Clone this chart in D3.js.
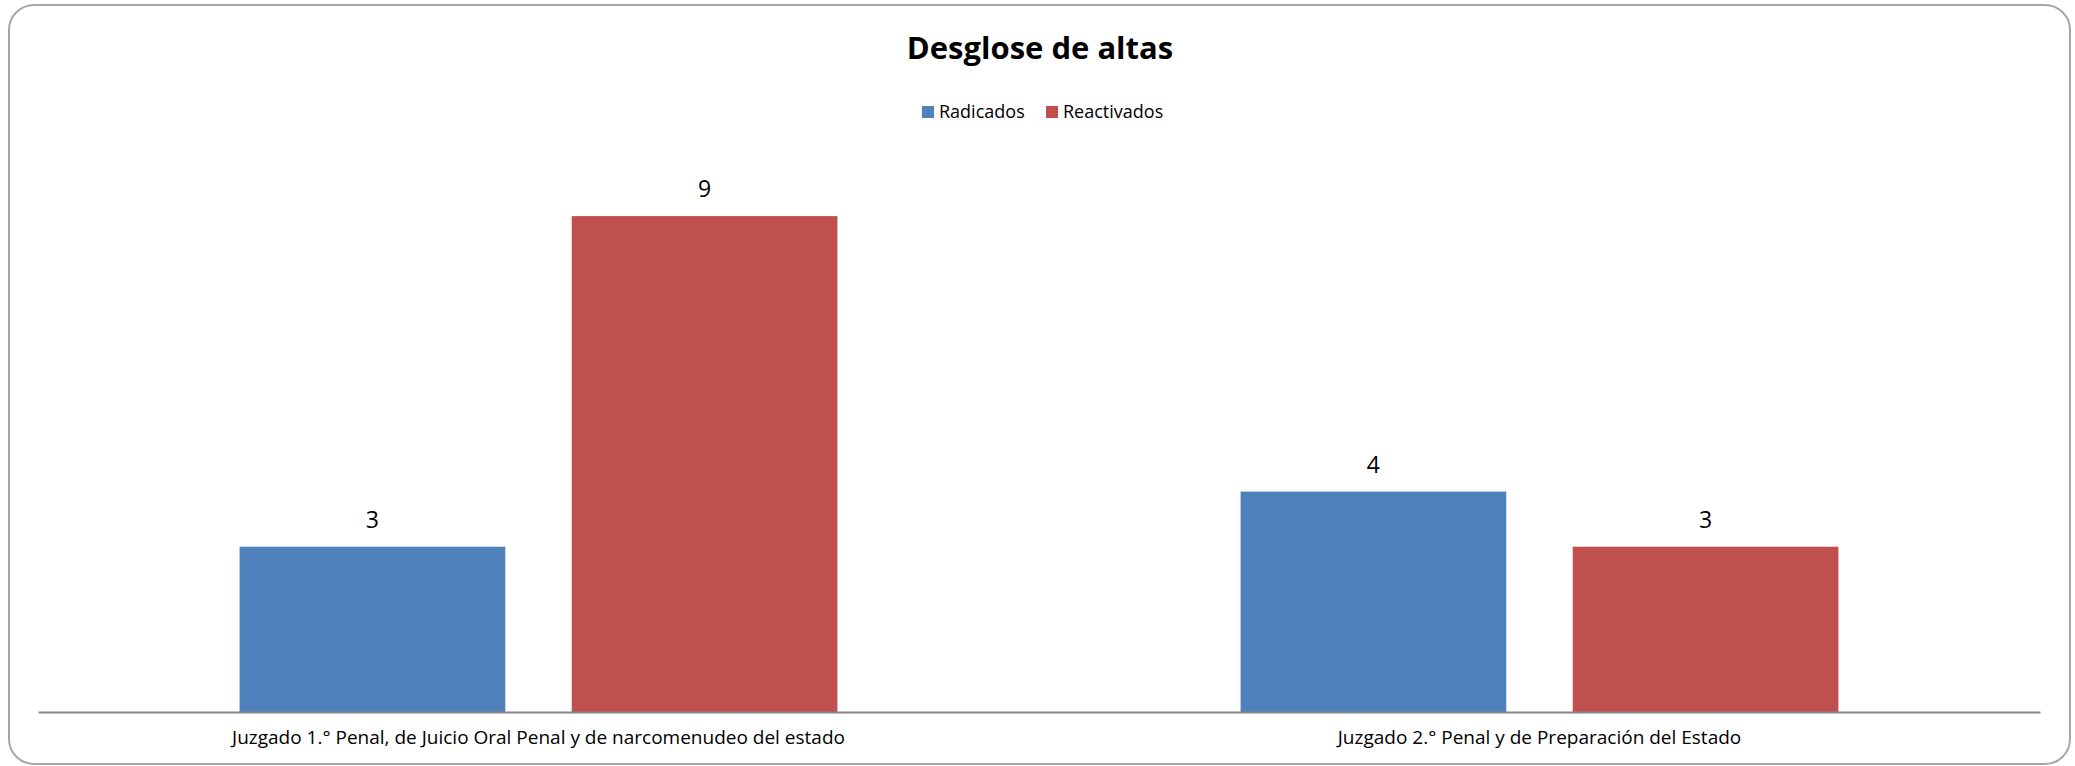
<!DOCTYPE html>
<html>
<head>
<meta charset="utf-8">
<script src="https://d3js.org/d3.v7.min.js"></script>
<style>
    body {
        margin: 0;
        background: #fff;
    }
    text {
        font-family: 'Open Sans', 'DejaVu Sans', sans-serif;
        fill: #000;
    }
    .title {
        font-size: 31px;
        font-weight: bold;
    }
    .legend {
        font-size: 18px;
    }
    .value {
        font-size: 23px;
    }
    .catLabel {
        font-size: 19px;
    }
</style>
</head>
<body>
<svg width="2075" height="766"></svg>
<script>
    var categories = ["Juzgado 1.° Penal, de Juicio Oral Penal y de narcomenudeo del estado",
                      "Juzgado 2.° Penal y de Preparación del Estado"];
    var seriesNames = ["Radicados", "Reactivados"];
    var radicados = [3, 4];
    var reactivados = [9, 3];
    var seriesColors = ["#4F81BD", "#C0504D"];

    var data = categories.map(function (c, i) {
        return {label: c, values: [radicados[i], reactivados[i]]};
    });

    var svg = d3.select("svg"),
        width = +svg.attr("width"),
        height = +svg.attr("height");

    // chart frame
    svg.append("rect")
        .attr("x", 9)
        .attr("y", 5)
        .attr("width", width - 14)
        .attr("height", height - 7)
        .attr("rx", 25)
        .attr("fill", "#fff")
        .attr("stroke", "#a6a6a6")
        .attr("stroke-width", 2);

    svg.append("text")
        .attr("class", "title")
        .attr("x", 1040)
        .attr("y", 59)
        .attr("text-anchor", "middle")
        .text("Desglose de altas");

    var plot = {left: 38, right: 2040, top: 161, bottom: 712};

    var x0 = d3.scaleBand()
        .domain(categories)
        .range([plot.left, plot.right]);

    var x1 = d3.scaleBand()
        .domain(seriesNames)
        .range([0, x0.bandwidth()])
        .paddingInner(0.2)
        .paddingOuter(0.607);

    var y = d3.scaleLinear()
        .domain([0, 10])
        .range([plot.bottom, plot.top]);

    var color = d3.scaleOrdinal()
        .domain(seriesNames)
        .range(seriesColors);

    // legend
    var legend = svg.append("g").attr("class", "legendGroup");
    var legendX = [922, 1046];
    seriesNames.forEach(function (s, i) {
        legend.append("rect")
            .attr("x", legendX[i])
            .attr("y", 106)
            .attr("width", 12)
            .attr("height", 12)
            .attr("fill", color(s));
        legend.append("text")
            .attr("class", "legend")
            .attr("x", legendX[i] + 17)
            .attr("y", 118)
            .text(s);
    });

    var group = svg.selectAll(".group")
        .data(data)
        .enter().append("g")
        .attr("class", "group")
        .attr("transform", function (d) { return "translate(" + x0(d.label) + ",0)"; });

    var bars = group.selectAll(".bar")
        .data(function (d) {
            return d.values.map(function (v, i) { return {series: seriesNames[i], value: v}; });
        })
        .enter();

    bars.append("rect")
        .attr("class", "bar")
        .attr("x", function (d) { return x1(d.series); })
        .attr("y", function (d) { return y(d.value); })
        .attr("width", x1.bandwidth())
        .attr("height", function (d) { return y(0) - y(d.value); })
        .attr("fill", function (d) { return color(d.series); });

    bars.append("text")
        .attr("class", "value")
        .attr("x", function (d) { return x1(d.series) + x1.bandwidth() / 2; })
        .attr("y", function (d) { return y(d.value) - 19; })
        .attr("text-anchor", "middle")
        .text(function (d) { return d.value; });

    // category axis
    var xAxis = svg.append("g")
        .attr("transform", "translate(0," + plot.bottom + ")")
        .call(d3.axisBottom(x0).tickSize(0).tickPadding(0));
    xAxis.select(".domain")
        .attr("stroke", "#868686")
        .attr("stroke-width", 2);
    xAxis.selectAll(".tick text")
        .attr("class", "catLabel")
        .attr("y", 32)
        .attr("dy", 0)
        .attr("fill", "#000")
        .style("font-size", null)
        .style("font-family", null);
    xAxis.attr("font-size", null).attr("font-family", null);
</script>
</body>
</html>
